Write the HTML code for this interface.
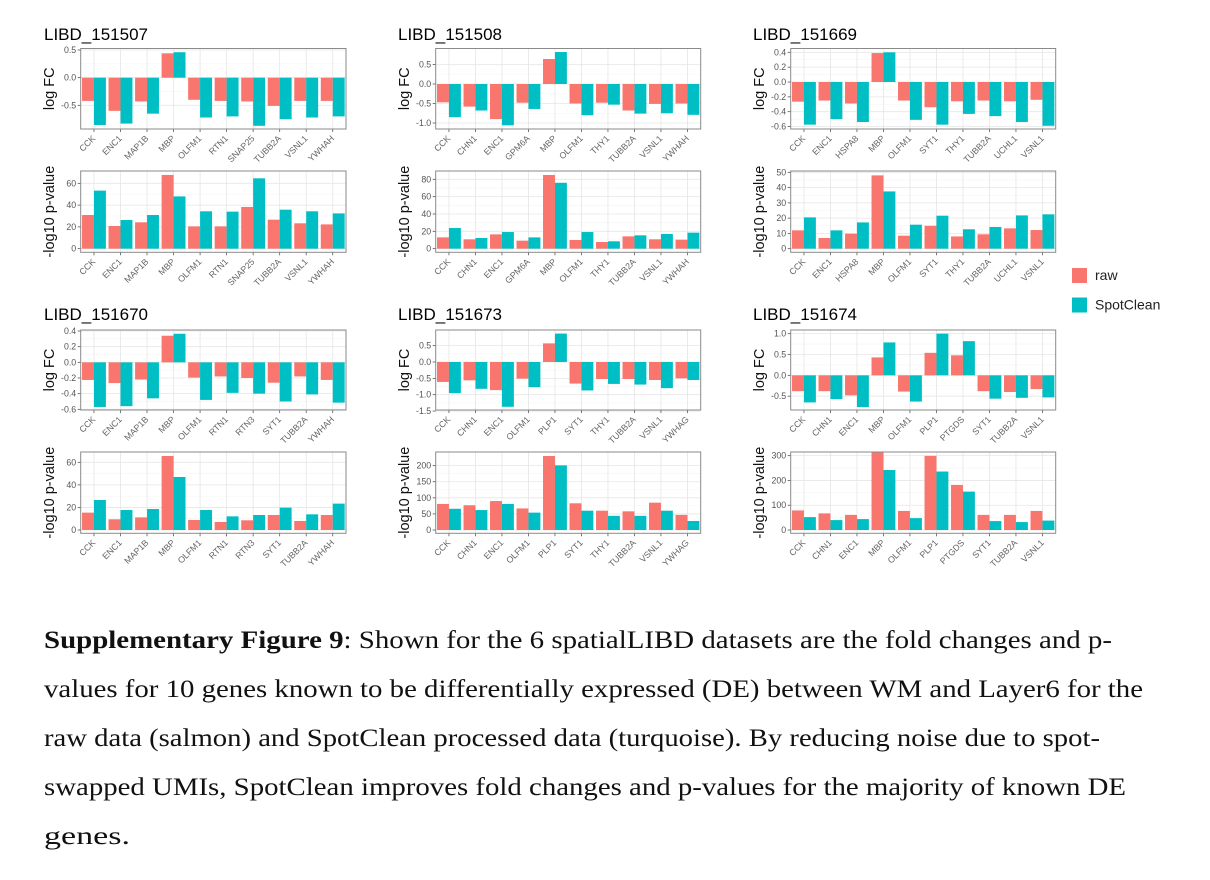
<!DOCTYPE html>
<html><head><meta charset="utf-8"><style>
html,body{margin:0;padding:0;background:#fff;}
svg{display:block;}
</style></head><body>
<svg id="fig" width="1210" height="880" viewBox="0 0 1210 880" xmlns="http://www.w3.org/2000/svg" font-family="'Liberation Sans', sans-serif">
<g id="panels"></g>
<g>
  <rect x="1072" y="268" width="15" height="15" fill="#F8766D"/>
  <text x="1095" y="280" font-size="14" fill="#222">raw</text>
  <rect x="1072" y="297.5" width="15" height="15" fill="#00BFC4"/>
  <text x="1095" y="309.5" font-size="14" fill="#222">SpotClean</text>
</g>
<g font-family="'Liberation Serif', serif" font-size="25" fill="#111">
  <text x="44" y="648" textLength="1068" lengthAdjust="spacingAndGlyphs"><tspan font-weight="bold">Supplementary Figure 9</tspan>: Shown for the 6 spatialLIBD datasets are the fold changes and p-</text>
  <text x="44" y="697" textLength="1099" lengthAdjust="spacingAndGlyphs">values for 10 genes known to be differentially expressed (DE) between WM and Layer6 for the</text>
  <text x="44" y="746" textLength="1056" lengthAdjust="spacingAndGlyphs">raw data (salmon) and SpotClean processed data (turquoise).  By reducing noise due to spot-</text>
  <text x="44" y="795" textLength="1082" lengthAdjust="spacingAndGlyphs">swapped UMIs, SpotClean improves fold changes and p-values for the majority of known DE</text>
  <text x="44" y="844" textLength="86" lengthAdjust="spacingAndGlyphs">genes.</text>
</g>
</svg>
<script>
// ---- data ----
const titles = ["LIBD_151507","LIBD_151508","LIBD_151669","LIBD_151670","LIBD_151673","LIBD_151674"];
const genes = [
 ["CCK","ENC1","MAP1B","MBP","OLFM1","RTN1","SNAP25","TUBB2A","VSNL1","YWHAH"],
 ["CCK","CHN1","ENC1","GPM6A","MBP","OLFM1","THY1","TUBB2A","VSNL1","YWHAH"],
 ["CCK","ENC1","HSPA8","MBP","OLFM1","SYT1","THY1","TUBB2A","UCHL1","VSNL1"],
 ["CCK","ENC1","MAP1B","MBP","OLFM1","RTN1","RTN3","SYT1","TUBB2A","YWHAH"],
 ["CCK","CHN1","ENC1","OLFM1","PLP1","SYT1","THY1","TUBB2A","VSNL1","YWHAG"],
 ["CCK","CHN1","ENC1","MBP","OLFM1","PLP1","PTGDS","SYT1","TUBB2A","VSNL1"]
];
const fcRaw = [
 [-0.42,-0.60,-0.43,0.44,-0.40,-0.42,-0.43,-0.51,-0.42,-0.42],
 [-0.47,-0.58,-0.90,-0.48,0.64,-0.50,-0.48,-0.68,-0.51,-0.50],
 [-0.265,-0.25,-0.29,0.39,-0.25,-0.34,-0.26,-0.25,-0.26,-0.24],
 [-0.225,-0.265,-0.22,0.34,-0.195,-0.18,-0.20,-0.26,-0.18,-0.225],
 [-0.61,-0.56,-0.86,-0.51,0.57,-0.66,-0.52,-0.52,-0.55,-0.50],
 [-0.38,-0.38,-0.48,0.43,-0.39,0.54,0.48,-0.38,-0.40,-0.33]
];
const fcSpot = [
 [-0.855,-0.83,-0.65,0.46,-0.72,-0.70,-0.87,-0.75,-0.72,-0.70],
 [-0.85,-0.68,-1.06,-0.64,0.82,-0.80,-0.53,-0.76,-0.75,-0.79],
 [-0.575,-0.50,-0.54,0.40,-0.51,-0.575,-0.43,-0.46,-0.54,-0.59],
 [-0.57,-0.56,-0.46,0.365,-0.48,-0.39,-0.40,-0.50,-0.41,-0.515],
 [-0.95,-0.82,-1.37,-0.77,0.87,-0.87,-0.67,-0.69,-0.80,-0.55],
 [-0.65,-0.57,-0.76,0.79,-0.63,1.0,0.82,-0.56,-0.54,-0.53]
];
const pRaw = [
 [30.9,20.8,24.2,67.7,20.5,20.5,38.3,26.6,23.3,22.3],
 [13,10.8,16.5,9.2,85,10,7.7,14.2,10.8,10.4],
 [12,7,9.8,48,8.5,15,8,9.4,13.3,12.2],
 [15.4,9.5,11.2,65.6,8.9,7.1,8.6,13.3,8,13.3],
 [81,77,90,67,230,83,60,58,85,47],
 [79,67,61,330,77,299,182,61,61,77]
];
const pSpot = [
 [53.3,26.3,30.9,48,34.3,34,64.6,35.8,34.3,32.4],
 [23.8,12.3,19.2,13,76,19.2,8.5,15.4,16.9,18.5],
 [20.5,12,17.2,37.5,15.7,21.6,12.7,14.2,21.8,22.5],
 [26.6,17.7,18.6,47,17.7,12.1,13.3,19.8,13.9,23.4],
 [66,62,81,54,201,60,44,44,60,28],
 [52,40,44,242,48,236,155,36,32,38]
];
const fcTicks = [
 [0.5,0,-0.5],[0.5,0,-0.5,-1.0],[0.4,0.2,0,-0.2,-0.4,-0.6],
 [0.4,0.2,0,-0.2,-0.4,-0.6],[0.5,0,-0.5,-1.0,-1.5],[1.0,0.5,0,-0.5]
];
const fcTickLabels = [
 ["0.5","0.0","-0.5"],["0.5","0.0","-0.5","-1.0"],["0.4","0.2","0.0","-0.2","-0.4","-0.6"],
 ["0.4","0.2","0.0","-0.2","-0.4","-0.6"],["0.5","0.0","-0.5","-1.0","-1.5"],["1.0","0.5","0.0","-0.5"]
];
const pTicks = [[0,20,40,60],[0,20,40,60,80],[0,10,20,30,40,50],[0,20,40,60],[0,50,100,150,200],[0,100,200,300]];

// ---- layout (pixel geometry, not data) ----
const colX = [[80.7,346],[435.7,700.7],[790.7,1055.7]];
const rowTop = [[48.5,129,171,252.3],[330,410,452,533.3]];
const titleX = [44,398,753];
const titleY = [40,320];
const axTitleX = [54,409,764];
const fcZero = [77.67,84,82,362.33,362,375.33];
const fcPPU  = [55.33,39,74.2,78.3,32.7,41.67];
const pZero  = [248.67,248.67,248.67,530,530,530];
const pPPU   = [1.089,0.867,1.527,1.128,0.3217,0.2478];

const NS="http://www.w3.org/2000/svg";
const root=document.getElementById('panels');
function mk(tag,attrs,parent){const e=document.createElementNS(NS,tag);for(const k in attrs)e.setAttribute(k,attrs[k]);(parent||root).appendChild(e);return e;}

function drawPlot(g,i,x0,x1,y0,y1,zero,ppu,ticks,tickLabels,raw,spot,kind,axTitle,atx){
  const yS=v=>zero-v*ppu;
  const cats=genes[i];
  const band=(x1-x0)/cats.length;
  const xS=k=>x0+band*(k+0.5);
  const clip='clip'+i+kind;
  const cp=mk('clipPath',{id:clip},g);mk('rect',{x:x0,y:y0,width:x1-x0,height:y1-y0},cp);
  const grid=mk('g',{},g);
  
  
  for(let t=0;t<ticks.length-1;t++){
    const m=(ticks[t]+ticks[t+1])/2;const yy=yS(m);
    if(yy>y0&&yy<y1)mk('line',{x1:x0,x2:x1,y1:yy,y2:yy,stroke:'#f4f4f4','stroke-width':0.6},grid);
  }
  ticks.forEach((t,k)=>{
    const yy=yS(t);
    mk('line',{x1:x0,x2:x1,y1:yy,y2:yy,stroke:'#e6e6e6','stroke-width':0.8},grid);
    mk('line',{x1:x0-3,x2:x0,y1:yy,y2:yy,stroke:'#555','stroke-width':0.8},g);
    const tl=mk('text',{x:x0-4.5,y:yy+3,'font-size':8.8,fill:'#555','text-anchor':'end'},g);
    tl.textContent=tickLabels[k];
    
    
  });
  cats.forEach((c,k)=>{
    const xx=xS(k);
    mk('line',{x1:xx,x2:xx,y1:y0,y2:y1,stroke:'#e6e6e6','stroke-width':0.8},grid);
    mk('line',{x1:xx,x2:xx,y1:y1,y2:y1+3,stroke:'#555','stroke-width':0.8},g);
    const lbl=mk('text',{x:xx+2,y:y1+10,'font-size':8.8,fill:'#666','text-anchor':'end',transform:`rotate(-45 ${xx+2} ${y1+10})`},g);
    lbl.textContent=c;
    
    
  });
  const bars=mk('g',{'clip-path':`url(#${clip})`},g);
  const bw=band*0.45;
  cats.forEach((c,k)=>{
    [[raw[k],'#F8766D',-1,'raw'],[spot[k],'#00BFC4',0,'spotclean']].forEach(([v,col,off,nm])=>{
      const ya=yS(0),yb=yS(v);
      const r=mk('rect',{x:xS(k)+off*bw,y:Math.min(ya,yb),width:bw,height:Math.abs(yb-ya),fill:col},bars);
      
      
    });
  });
  const box=mk('rect',{x:x0,y:y0,width:x1-x0,height:y1-y0,fill:'none',stroke:'#8a8a8a','stroke-width':1},g);
  
  
  const cy=(y0+y1)/2;
  const at=mk('text',{x:atx,y:cy,'font-size':14.5,fill:'#111','text-anchor':'middle',transform:`rotate(-90 ${atx} ${cy})`},g);
  at.textContent=axTitle;
  
  
}

for(let i=0;i<6;i++){
  const r=Math.floor(i/3),c=i%3;
  const g=mk('g',{});
  
  
  const t=mk('text',{x:titleX[c],y:titleY[r],'font-size':17,fill:'#000'},g);
  t.textContent=titles[i];
  
  
  const [x0,x1]=colX[c];const [a0,a1,b0,b1]=rowTop[r];
  const g1=mk('g',{},g);
  
  
  drawPlot(g1,i,x0,x1,a0,a1,fcZero[i],fcPPU[i],fcTicks[i],fcTickLabels[i],fcRaw[i],fcSpot[i],'logfc','log FC',axTitleX[c]);
  const g2=mk('g',{},g);
  
  
  drawPlot(g2,i,x0,x1,b0,b1,pZero[i],pPPU[i],pTicks[i],pTicks[i].map(String),pRaw[i],pSpot[i],'pvalue','-log10 p-value',axTitleX[c]);
}
</script>
</body></html>
